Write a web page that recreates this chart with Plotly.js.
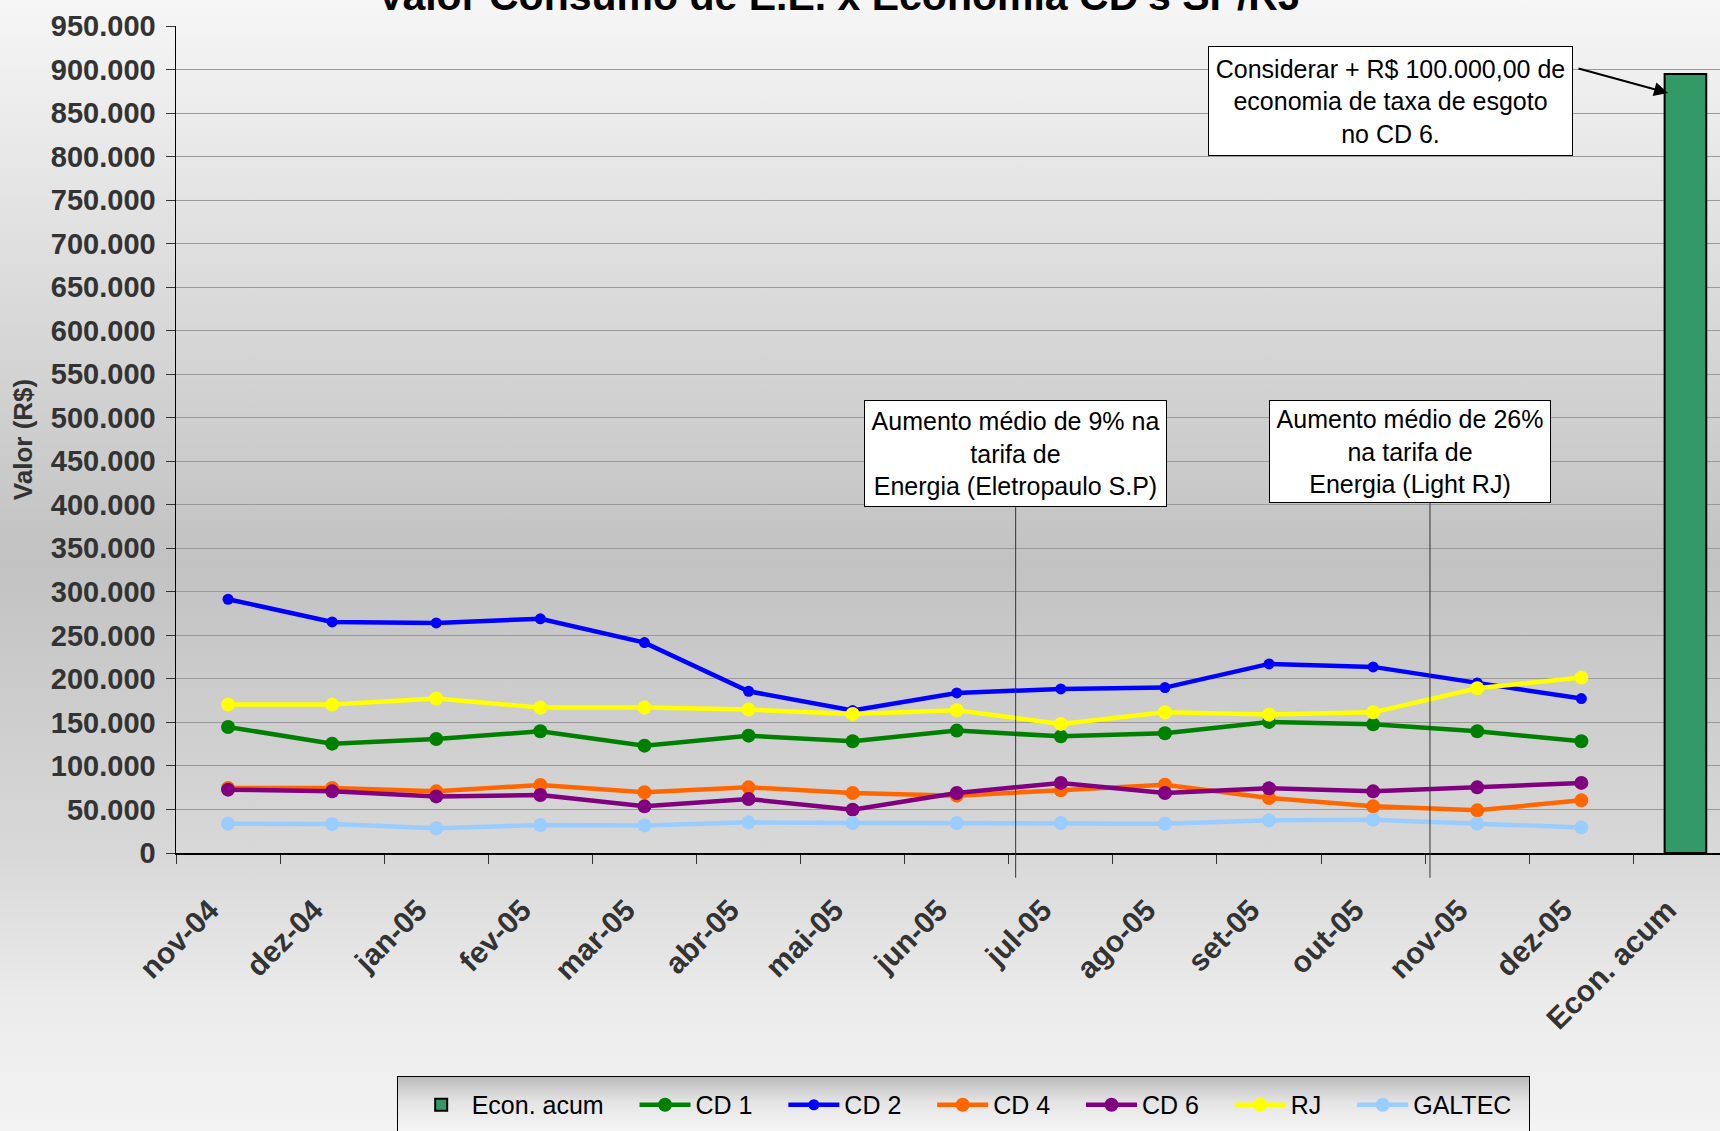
<!DOCTYPE html>
<html><head><meta charset="utf-8">
<script src="https://cdn.plot.ly/plotly-3.0.1.min.js"></script>
<style>
html,body{margin:0;padding:0;}
body{width:1720px;height:1131px;overflow:hidden;position:relative;
background:linear-gradient(to bottom,#f6f6f6 0px,#e8e8e8 150px,#c2c2c2 560px,#d8d8d8 853px,#ebebeb 1000px,#f3f3f3 1131px);}
#legbg{position:absolute;left:397px;top:1076px;width:1133px;height:90px;box-sizing:border-box;border:1px solid #000;
background:linear-gradient(to bottom,#bcbcbc 0px,#e4e4e4 25px,#f6f6f6 55px);}
#chart{position:absolute;left:0;top:0;width:1720px;height:1131px;}
</style></head>
<body><div id="legbg"></div><div id="chart"></div>
<script>
const months = ['nov-04','dez-04','jan-05','fev-05','mar-05','abr-05','mai-05','jun-05','jul-05','ago-05','set-05','out-05','nov-05','dez-05'];
const barCategory = 'Econ. acum';
const econAcum = [895000];
const cd1 = [144800,125600,131000,139800,123300,134800,128300,140600,134000,137500,150600,147800,139800,128300];
const cd2 = [291500,265500,264300,269000,241700,185800,163600,183900,188500,190000,217200,213800,195400,177400];
const cd4 = [74700,74700,70800,78100,69700,75400,69000,65900,72000,78500,63200,53600,49000,60500];
const cd6 = [72800,70800,65000,66600,53600,62000,49800,69000,80500,69000,74300,70800,75400,80500];
const rj  = [170500,170500,177400,167000,167000,164700,159800,164000,148300,161600,159000,161600,189200,201500];
const galtec = [33700,33300,28300,32200,31700,35200,34500,34500,34500,33700,37500,38300,33700,29400];
const seriesNames = ['CD 1','CD 2','CD 4','CD 6','RJ','GALTEC'];
const seriesValues = [cd1, cd2, cd4, cd6, rj, galtec];
const seriesColors = ['#008000','#0000ff','#ff6600','#800080','#ffff00','#99ccff'];
const markerSizes = [14,11,14,14,14,14];
const categories = months.concat([barCategory]);

const FONT = 'Liberation Sans, Arial, sans-serif';
const PAD = '\u00a0\u00a0\u00a0\u2009';

const traces = [{
  type:'bar', name:barCategory + PAD, x:[barCategory], y:econAcum, width:0.4,
  marker:{color:'#339966', line:{color:'#000', width:2}}
}];
seriesNames.forEach((n,i)=>{
  traces.push({type:'scatter', mode:'lines+markers', name:n + PAD, x:months, y:seriesValues[i],
    line:{color:seriesColors[i], width:4.5}, marker:{color:seriesColors[i], size:markerSizes[i]}, cliponaxis:false});
});

const annFont = {family:FONT, size:25, color:'#000'};
const layout = {
  width:1720, height:1131,
  paper_bgcolor:'rgba(0,0,0,0)', plot_bgcolor:'rgba(0,0,0,0)',
  separators:',.',
  margin:{l:176, r:0, t:26, b:278, autoexpand:false},
  showlegend:true,
  hovermode:false,
  title:{text:"Valor Consumo de E.E. x Economia CD's SP/RJ", font:{family:FONT, size:41, weight:'bold', color:'#000'},
    xref:'container', x:0.4878, xanchor:'center', yref:'container', y:0.9912, yanchor:'bottom'},
  xaxis:{type:'category', categoryorder:'array', categoryarray:categories, range:[-0.5,14.332],
    tickangle:-45, tickfont:{family:FONT, size:30, weight:'bold', color:'#333'},
    ticklabelstandoff:26, ticklabelshift:-18,
    ticks:'outside', ticklen:9, tickcolor:'#333', tickson:'boundaries',
    showline:true, linecolor:'#000', linewidth:1.5, showgrid:false, zeroline:false, automargin:false, fixedrange:true},
  yaxis:{range:[0,950000], tick0:0, dtick:50000, tickformat:',d',
    tickfont:{family:FONT, size:29, weight:'bold', color:'#333'}, ticklabelstandoff:4,
    ticks:'outside', ticklen:9, tickcolor:'#333',
    showline:true, linecolor:'#000', linewidth:1.5, showgrid:true, gridcolor:'#9a9a9a', gridwidth:1, zeroline:false,
    title:{text:'Valor (R$)', font:{family:FONT, size:26, weight:'bold', color:'#333'}, standoff:11},
    automargin:false, fixedrange:true},
  legend:{orientation:'h', x:0.152, xanchor:'left', y:-0.2769, yanchor:'top',
    font:{family:FONT, size:25, color:'#000'}, bgcolor:'rgba(0,0,0,0)', borderwidth:0, itemwidth:51},
  shapes:[
    {type:'line', xref:'x', yref:'paper', x0:7.566, x1:7.566, y0:-0.0299, y1:0.4182, line:{color:'#333', width:1}},
    {type:'line', xref:'x', yref:'paper', x0:11.546, x1:11.546, y0:-0.0299, y1:0.4231, line:{color:'#333', width:1}}
  ],
  annotations:[
    {xref:'x', yref:'y', x:7.566, y:458900, text:'Aumento médio de 9% na<br>tarifa de<br>Energia (Eletropaulo S.P)',
     showarrow:false, bgcolor:'#fff', bordercolor:'#000', borderwidth:1, borderpad:0, width:301, height:105, font:annFont, align:'center'},
    {xref:'x', yref:'y', x:11.352, y:461200, text:'Aumento médio de 26%<br>na tarifa de<br>Energia (Light RJ)',
     showarrow:false, bgcolor:'#fff', bordercolor:'#000', borderwidth:1, borderpad:0, width:280, height:101, font:annFont, align:'center'},
    {xref:'x', yref:'y', x:11.171, y:864200, text:'Considerar + R$ 100.000,00 de<br>economia de taxa de esgoto<br>no CD 6.',
     showarrow:false, bgcolor:'#fff', bordercolor:'#000', borderwidth:1, borderpad:0, width:363, height:108, font:annFont, align:'center'},
    {xref:'x', yref:'y', x:13.833, y:873000, ax:-91, ay:-25, axref:'pixel', ayref:'pixel', text:'',
     showarrow:true, arrowhead:2, arrowsize:1.4, arrowwidth:2, arrowcolor:'#000'}
  ]
};
Plotly.newPlot('chart', traces, layout, {displayModeBar:false, staticPlot:true});
</script>
</body></html>
